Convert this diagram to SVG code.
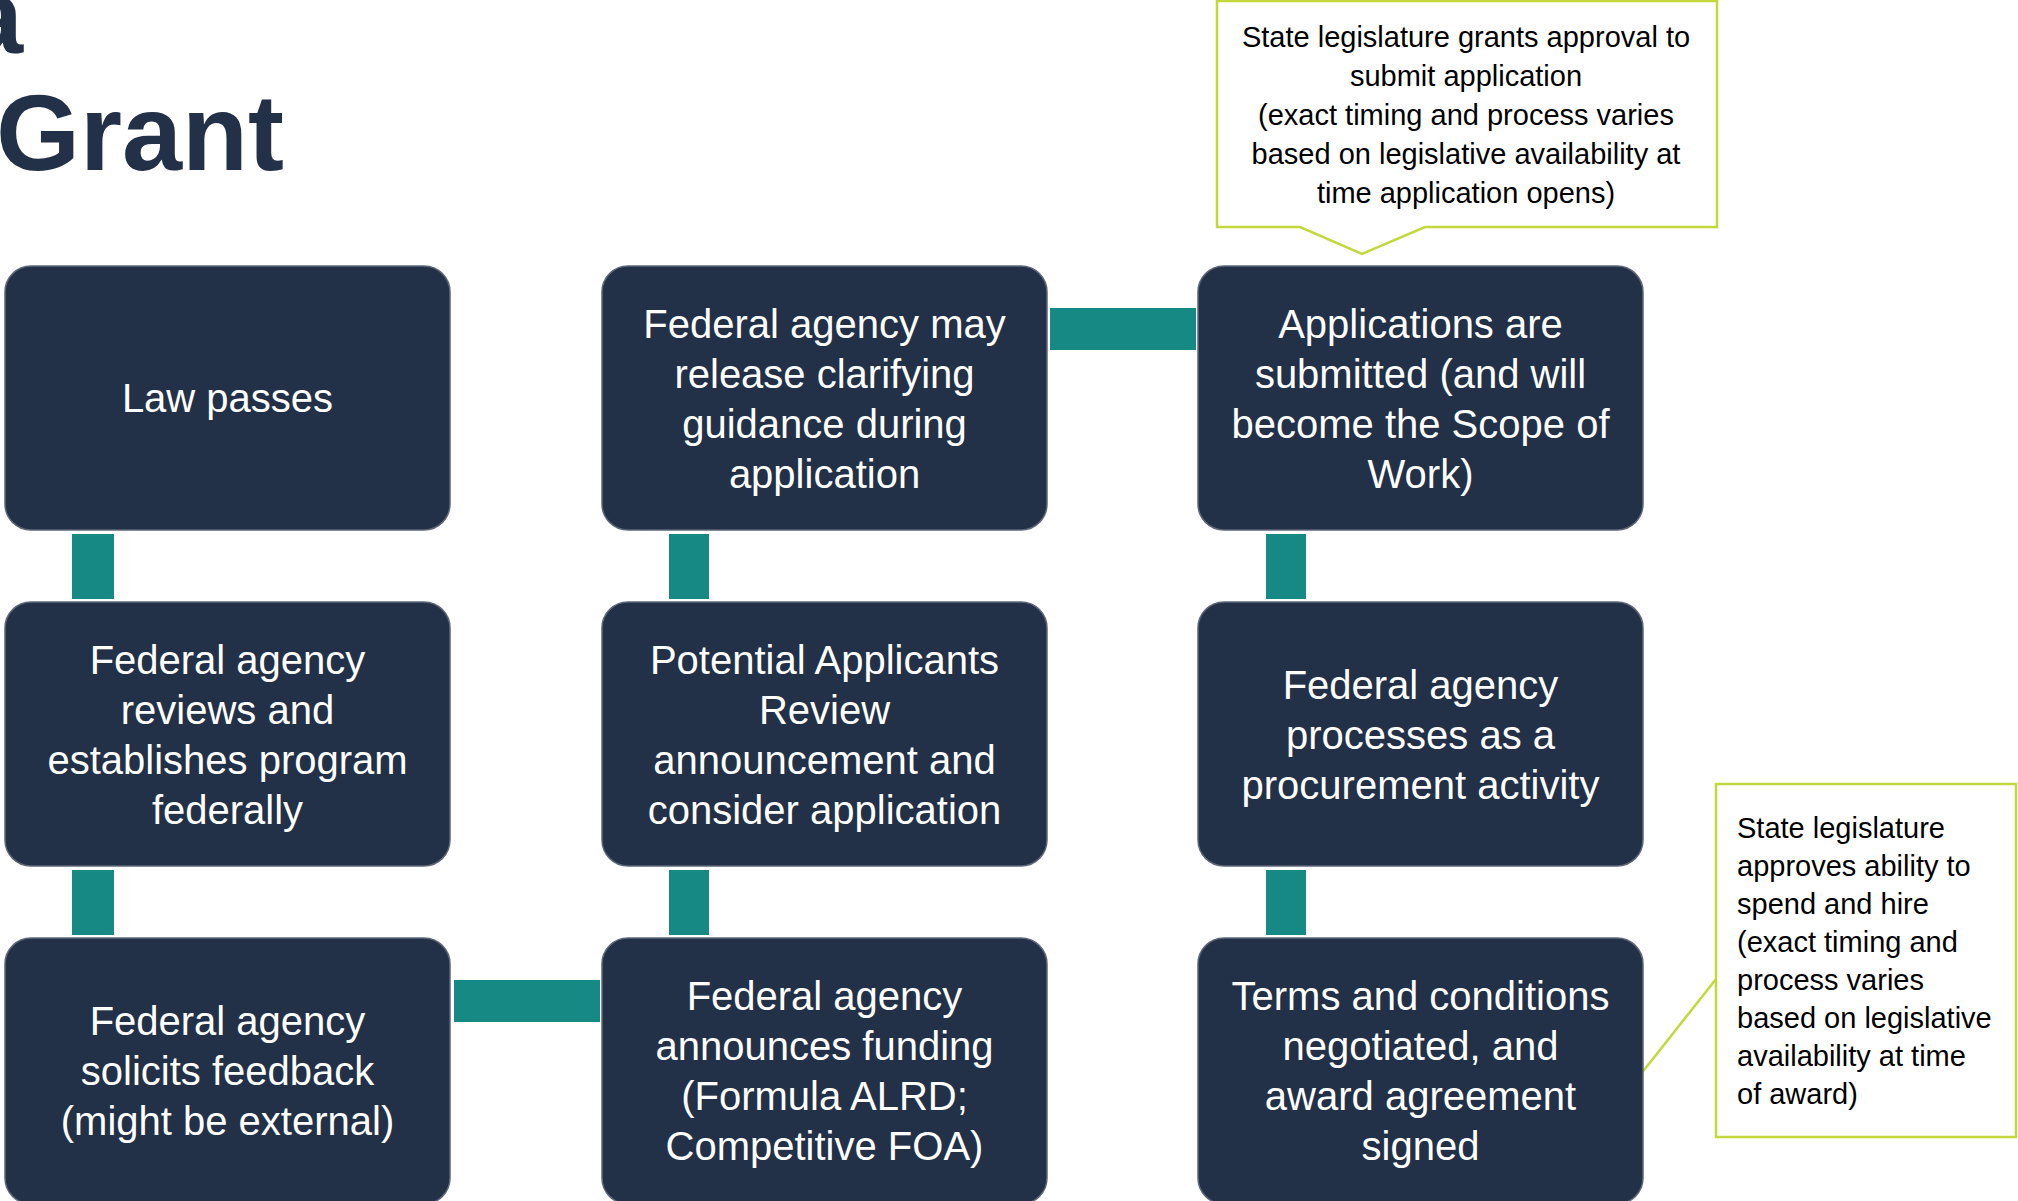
<svg xmlns="http://www.w3.org/2000/svg" width="2018" height="1201" viewBox="0 0 2018 1201">
<style>
.box{fill:#223048;stroke:#5d6778;stroke-width:1.5}
.bt{fill:#ffffff;font-family:"Liberation Sans",Arial,sans-serif;font-size:40px;text-anchor:middle}
.conn{fill:#178985}
.call{fill:#ffffff;stroke:#c3d93b;stroke-width:2.5}
.ct{fill:#000000;font-family:"Liberation Sans",Arial,sans-serif;font-size:29px}
.title{fill:#223048;font-family:"Liberation Sans",Arial,sans-serif;font-weight:bold;font-size:108px}
</style>
<rect width="2018" height="1201" fill="#ffffff"/>
<g id="title">
<text class="title" x="-37" y="53">a</text>
<text class="title" x="-4" y="170">Grant</text>
</g>
<g id="connectors">
<rect class="conn" x="72" y="534" width="42" height="65"/>
<rect class="conn" x="72" y="870" width="42" height="65"/>
<rect class="conn" x="669" y="534" width="40" height="65"/>
<rect class="conn" x="669" y="870" width="40" height="65"/>
<rect class="conn" x="1266" y="534" width="40" height="65"/>
<rect class="conn" x="1266" y="870" width="40" height="65"/>
<rect class="conn" x="1050" y="308" width="146" height="42"/>
<rect class="conn" x="454" y="980" width="146" height="42"/>
<line x1="1716" y1="979" x2="1637" y2="1079" stroke="#c3d93b" stroke-width="2.5"/>
</g>
<g id="n1">
<rect class="box" x="5" y="266" width="445" height="264" rx="26"/>
<text class="bt" x="227.5" y="412">Law passes</text>
</g>
<g id="n2">
<rect class="box" x="5" y="602" width="445" height="264" rx="26"/>
<text class="bt" x="227.5" y="674">Federal agency</text>
<text class="bt" x="227.5" y="724">reviews and</text>
<text class="bt" x="227.5" y="774">establishes program</text>
<text class="bt" x="227.5" y="824">federally</text>
</g>
<g id="n3">
<rect class="box" x="5" y="938" width="445" height="266" rx="26"/>
<text class="bt" x="227.5" y="1035">Federal agency</text>
<text class="bt" x="227.5" y="1085">solicits feedback</text>
<text class="bt" x="227.5" y="1135">(might be external)</text>
</g>
<g id="n4">
<rect class="box" x="602" y="938" width="445" height="266" rx="26"/>
<text class="bt" x="824.5" y="1010">Federal agency</text>
<text class="bt" x="824.5" y="1060">announces funding</text>
<text class="bt" x="824.5" y="1110">(Formula ALRD;</text>
<text class="bt" x="824.5" y="1160">Competitive FOA)</text>
</g>
<g id="n5">
<rect class="box" x="602" y="602" width="445" height="264" rx="26"/>
<text class="bt" x="824.5" y="674">Potential Applicants</text>
<text class="bt" x="824.5" y="724">Review</text>
<text class="bt" x="824.5" y="774">announcement and</text>
<text class="bt" x="824.5" y="824">consider application</text>
</g>
<g id="n6">
<rect class="box" x="602" y="266" width="445" height="264" rx="26"/>
<text class="bt" x="824.5" y="338">Federal agency may</text>
<text class="bt" x="824.5" y="388">release clarifying</text>
<text class="bt" x="824.5" y="438">guidance during</text>
<text class="bt" x="824.5" y="488">application</text>
</g>
<g id="n7">
<rect class="box" x="1198" y="266" width="445" height="264" rx="26"/>
<text class="bt" x="1420.5" y="338">Applications are</text>
<text class="bt" x="1420.5" y="388">submitted (and will</text>
<text class="bt" x="1420.5" y="438">become the Scope of</text>
<text class="bt" x="1420.5" y="488">Work)</text>
</g>
<g id="n8">
<rect class="box" x="1198" y="602" width="445" height="264" rx="26"/>
<text class="bt" x="1420.5" y="699">Federal agency</text>
<text class="bt" x="1420.5" y="749">processes as a</text>
<text class="bt" x="1420.5" y="799">procurement activity</text>
</g>
<g id="n9">
<rect class="box" x="1198" y="938" width="445" height="266" rx="26"/>
<text class="bt" x="1420.5" y="1010">Terms and conditions</text>
<text class="bt" x="1420.5" y="1060">negotiated, and</text>
<text class="bt" x="1420.5" y="1110">award agreement</text>
<text class="bt" x="1420.5" y="1160">signed</text>
</g>
<g id="callout1">
<path class="call" d="M1217,1 H1717 V227 H1425 L1362,254 L1300,227 H1217 Z"/>
<text class="ct" x="1466" y="47" text-anchor="middle">State legislature grants approval to</text>
<text class="ct" x="1466" y="86" text-anchor="middle">submit application</text>
<text class="ct" x="1466" y="125" text-anchor="middle">(exact timing and process varies</text>
<text class="ct" x="1466" y="164" text-anchor="middle">based on legislative availability at</text>
<text class="ct" x="1466" y="203" text-anchor="middle">time application opens)</text>
</g>
<g id="callout2">
<rect class="call" x="1716" y="784" width="300" height="353"/>
<text class="ct" x="1737" y="838">State legislature</text>
<text class="ct" x="1737" y="876">approves ability to</text>
<text class="ct" x="1737" y="914">spend and hire</text>
<text class="ct" x="1737" y="952">(exact timing and</text>
<text class="ct" x="1737" y="990">process varies</text>
<text class="ct" x="1737" y="1028">based on legislative</text>
<text class="ct" x="1737" y="1066">availability at time</text>
<text class="ct" x="1737" y="1104">of award)</text>
</g>
</svg>
